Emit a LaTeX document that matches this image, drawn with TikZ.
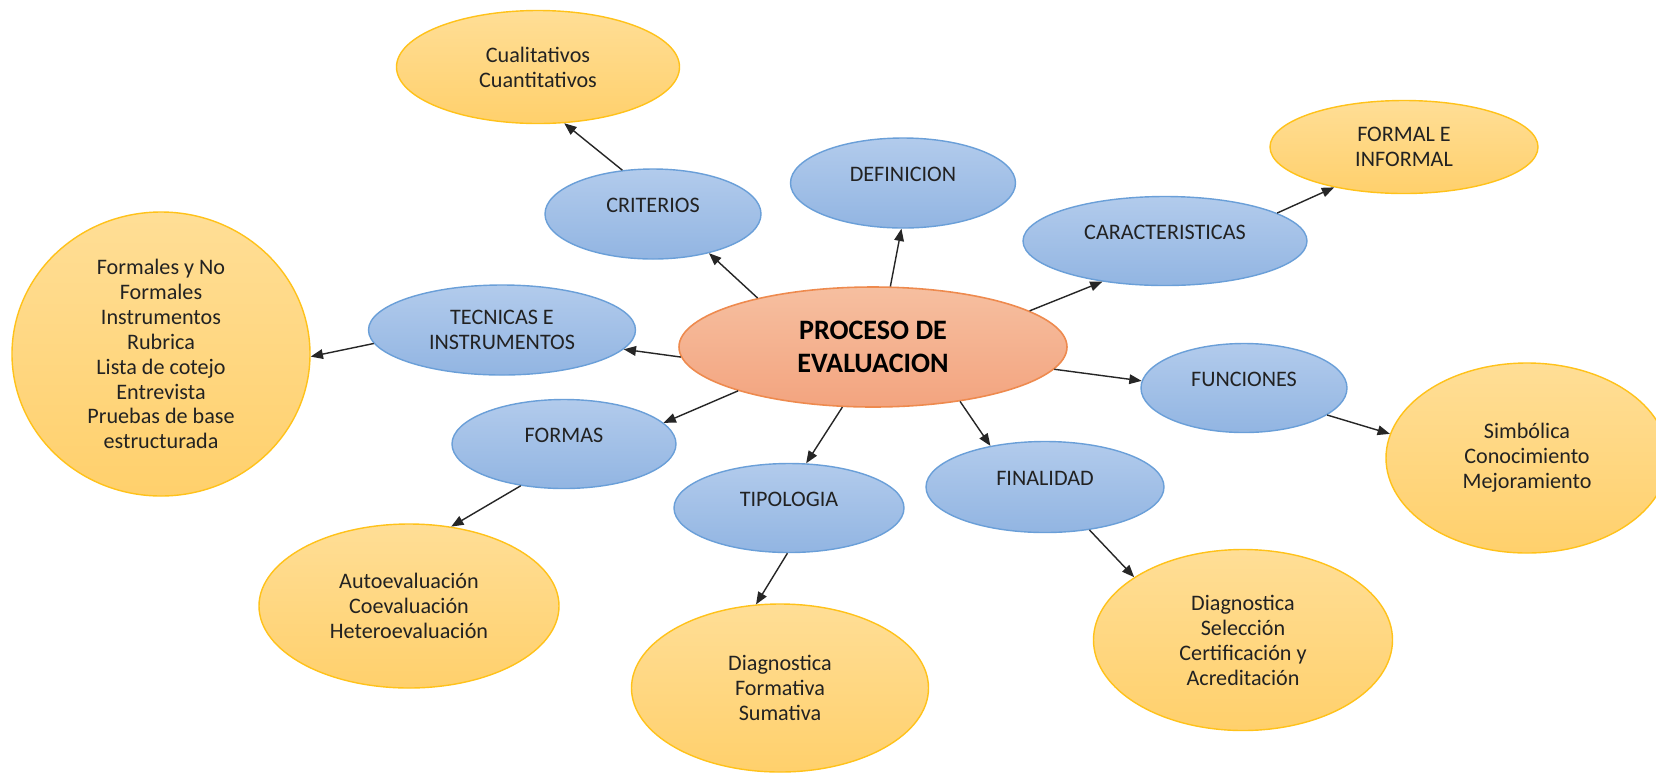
\documentclass[tikz,border=0pt]{standalone}
\usepackage{fontspec}
\setmainfont{Carlito}
\usetikzlibrary{arrows.meta,shapes.geometric}
\definecolor{bluetop}{HTML}{B2CBEC}
\definecolor{bluebot}{HTML}{92B5E2}
\definecolor{blueline}{HTML}{6A9FD8}
\definecolor{yeltop}{HTML}{FFDE96}
\definecolor{yelbot}{HTML}{FFD06C}
\definecolor{yelline}{HTML}{FFC21A}
\definecolor{orgtop}{HTML}{F6BFA0}
\definecolor{orgbot}{HTML}{F3A47F}
\definecolor{orgline}{HTML}{EE8A4E}
\definecolor{txt}{HTML}{222222}
\newcommand\nodefont{\fontsize{12.6}{14.2}\selectfont}
\newcommand\procfont{\fontsize{16}{18.6}\selectfont\bfseries}
\begin{document}
\begin{tikzpicture}[x=0.02cm,y=-0.02cm,
	size/.style 2 args={minimum width=#1*0.02cm,minimum height=#2*0.02cm},
	blueell/.style={ellipse,draw=blueline,line width=0.8pt,top color=bluetop,bottom color=bluebot,inner sep=0pt,align=center,font=\nodefont,text=txt,text depth=9.6pt},
	yelell/.style={ellipse,draw=yelline,line width=0.8pt,top color=yeltop,bottom color=yelbot,inner sep=0pt,align=center,font=\nodefont,text=txt},
	procell/.style={ellipse,draw=orgline,line width=0.9pt,top color=orgtop,bottom color=orgbot,inner sep=0pt,align=center,font=\procfont,text=black},
	link/.style={-{Triangle[length=7pt,width=5.5pt]},line width=0.8pt,black!85}]
	\useasboundingbox[fill=white] (0,0) rectangle (1656,772);
%	% Centre
	\node[procell,size={388}{120}] (proc) at (873,347) {PROCESO DE\\EVALUACION};
%	% First ring
	\node[blueell,size={216}{90}] (crit) at (653,214) {CRITERIOS};
	\node[blueell,size={225}{90}] (defi) at (903,183) {DEFINICION};
	\node[blueell,size={284}{89}] (cara) at (1165,241) {CARACTERISTICAS};
	\node[blueell,size={267}{90},text depth=0pt] (tecn) at (502,330) {TECNICAS E\\INSTRUMENTOS};
	\node[blueell,size={206}{89}] (func) at (1244,388) {FUNCIONES};
	\node[blueell,size={224}{89}] (frms) at (564,444) {FORMAS};
	\node[blueell,size={230}{89}] (tipo) at (789,508) {TIPOLOGIA};
	\node[blueell,size={238}{91}] (fina) at (1045,487) {FINALIDAD};
%	% Second ring
	\node[yelell,size={283}{113}] (cual) at (538,67) {Cualitativos\\Cuantitativos};
	\node[yelell,size={268}{93}] (info) at (1404,147) {FORMAL E\\INFORMAL};
	\node[yelell,size={298}{284}] (fmls) at (161,354) {Formales y No\\Formales\\Instrumentos\\Rubrica\\Lista de cotejo\\Entrevista\\Pruebas de base\\estructurada};
	\node[yelell,size={282}{190}] (simb) at (1527,458) {Simbólica\\Conocimiento\\Mejoramiento};
	\node[yelell,size={300}{164}] (auto) at (409,606) {Autoevaluación\\Coevaluación\\Heteroevaluación};
	\node[yelell,size={297}{168}] (diag) at (780,688) {Diagnostica\\Formativa\\Sumativa};
	\node[yelell,size={299}{181}] (dsel) at (1243,640) {Diagnostica\\Selección\\Certificación y\\Acreditación};
%	% Arrows
	\draw[link] (proc.157) -- (crit.-35);
	\draw[link] (proc.74) -- (defi.-92);
	\draw[link] (proc.13) -- (cara.-147);
	\draw[link] (proc.-177) -- (tecn.-9);
	\draw[link] (proc.-7) -- (func.176);
	\draw[link] (proc.-162) -- (frms.12);
	\draw[link] (proc.-117) -- (tipo.69);
	\draw[link] (proc.-32) -- (fina.143);
	\draw[link] (crit.125) -- (cual.-65);
	\draw[link] (cara.14) -- (info.-150);
	\draw[link] (tecn.-174) -- (fmls.-1);
	\draw[link] (func.-18) -- (simb.170);
	\draw[link] (frms.-136) -- (auto.62);
	\draw[link] (tipo.-92) -- (diag.106);
	\draw[link] (fina.-44) -- (dsel.150);
\end{tikzpicture}
\end{document}
